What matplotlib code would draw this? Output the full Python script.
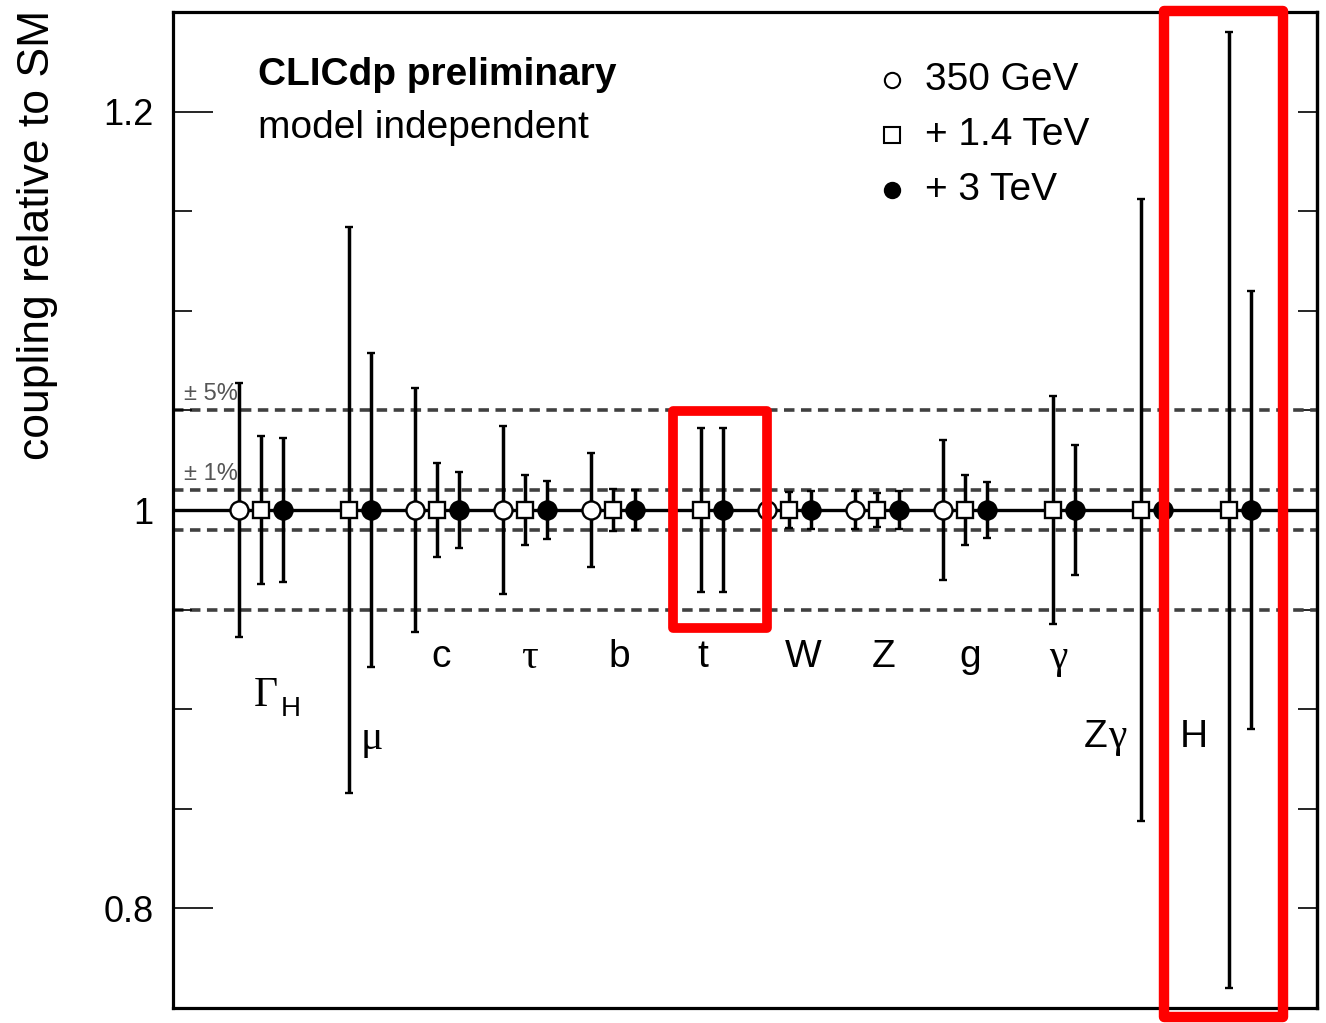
import numpy as np
import matplotlib
matplotlib.use("Agg")
import matplotlib.pyplot as plt
from matplotlib.patches import Rectangle

plt.rcParams['font.family'] = ['Liberation Sans', 'DejaVu Sans']

# relative precision (percent) per coupling, for each energy stage
groups = ['ΓH', 'μ', 'c', 'τ', 'b', 't', 'W', 'Z', 'g', 'γ', 'Zγ', 'H']
err_350 = [6.4, np.nan, 6.1, 4.2, 2.85, np.nan, 0.9, 0.95, 3.5, np.nan, np.nan, np.nan]
err_1400 = [3.7, 14.2, 2.35, 1.75, 1.05, 4.1, 0.9, 0.85, 1.75, 5.7, 15.6, 24.0]
err_3000 = [3.6, 7.9, 1.9, 1.45, 1.0, 4.1, 0.95, 0.95, 1.4, 3.25, 9.1, 11.0]
stage_labels = ['350 GeV', '+ 1.4 TeV', '+ 3 TeV']

fig = plt.figure(figsize=(13.26, 10.23), dpi=100)
ax = fig.add_axes([173 / 1326, 1 - 1008 / 1023, 1144 / 1326, 996 / 1023])

ax.set_xlim(-0.75, 12.25)
ax.set_ylim(0.75, 1.25)

# reference lines
ax.axhline(1.0, color='black', lw=2.4, zorder=2)
for v in [0.05, 0.01]:
    for s in [1, -1]:
        ax.axhline(1 + s * v, color='#404040', lw=2.6, dashes=(2.9, 1.8), zorder=1)
ax.text(-0.63, 1.058, '± 5%', fontsize=17, color='#555555', va='center', ha='left')
ax.text(-0.63, 1.018, '± 1%', fontsize=17, color='#555555', va='center', ha='left')

x = np.arange(len(groups))
series = [(err_350, 0.0, 'o', 'white'), (err_1400, 0.25, 's', 'white'), (err_3000, 0.5, 'o', 'black')]
for errs, off, mk, fc in series:
    e = np.array(errs) / 100.0
    ok = ~np.isnan(e)
    ax.errorbar(x[ok] + off, np.ones(ok.sum()), yerr=e[ok], fmt=mk, ms=13 if mk == 'o' else 12,
                mfc=fc, mec='black', mew=1.7, ecolor='black', elinewidth=2.5,
                capsize=3, capthick=2.5, zorder=3)

# coupling labels
sans_lbl = {'c': (2.3, 0.926), 'b': (4.32, 0.926), 't': (5.27, 0.926), 'W': (6.41, 0.926),
            'Z': (7.32, 0.926), 'g': (8.31, 0.926), 'H': (10.85, 0.886)}
for name, (lx, ly) in sans_lbl.items():
    ax.text(lx, ly, name, fontsize=28, ha='center', va='center')
serif_lbl = {'μ': (1.51, 0.885), 'τ': (3.3, 0.926), 'γ': (9.31, 0.926)}
for name, (lx, ly) in serif_lbl.items():
    ax.text(lx, ly, name, fontsize=30, ha='center', va='center', family='Liberation Serif')
ax.text(0.3, 0.907, 'Γ', fontsize=30, ha='center', va='center', family='Liberation Serif')
ax.text(0.59, 0.9, 'H', fontsize=20, ha='center', va='center')
ax.text(9.73, 0.886, 'Z', fontsize=28, ha='center', va='center')
ax.text(9.98, 0.886, 'γ', fontsize=30, ha='center', va='center', family='Liberation Serif')

# header
ax.text(0.0743, 0.9367, 'CLICdp preliminary', transform=ax.transAxes, fontsize=28,
        fontweight='bold', va='center', ha='left')
ax.text(0.0743, 0.8835, 'model independent', transform=ax.transAxes, fontsize=28,
        va='center', ha='left')

# legend
leg_y = [0.9317, 0.8765, 0.8213]
leg_mk = [('o', 'white'), ('s', 'white'), ('o', 'black')]
for (mk, fc), yy, lab in zip(leg_mk, leg_y, stage_labels):
    ax.plot([0.6285], [yy], mk, ms=11, mfc=fc, mec='black', mew=1.5, transform=ax.transAxes)
    ax.text(0.657, yy, lab, transform=ax.transAxes, fontsize=28, va='center', ha='left')

# axes styling
ax.set_xticks([])
ax.set_yticks([0.8, 1.0, 1.2])
ax.set_yticklabels(['0.8', '1', '1.2'])
ax.set_yticks(np.arange(0.75, 1.2501, 0.05), minor=True)
ax.tick_params(axis='y', which='major', direction='in', length=29, width=1.2, labelsize=26, pad=14)
ax.tick_params(axis='y', which='minor', direction='in', length=14, width=1.2)
for sp in ax.spines.values():
    sp.set_linewidth(2.3)

sec = ax.secondary_yaxis('right')
sec.set_yticks(np.arange(0.75, 1.2501, 0.05))
sec.set_yticklabels([])
sec.tick_params(axis='y', direction='in', length=14, width=1.2)
sec.spines['right'].set_linewidth(2.3)

fig.text(38 / 1326, 1 - 235 / 1023, 'coupling relative to SM', rotation=90, fontsize=32,
         ha='center', va='center')

# highlight boxes
ax.add_patch(Rectangle((4.93, 0.941), 6.0 - 4.93, 1.0495 - 0.941, fill=False, ec='#ff0000',
                       lw=7, joinstyle='round', clip_on=False, zorder=5))
ax.add_patch(Rectangle((10.51, 0.7455), 11.86 - 10.51, 1.2505 - 0.7455, fill=False, ec='#ff0000',
                       lw=7.5, joinstyle='round', clip_on=False, zorder=5))

fig.savefig('out.png', dpi=100)
